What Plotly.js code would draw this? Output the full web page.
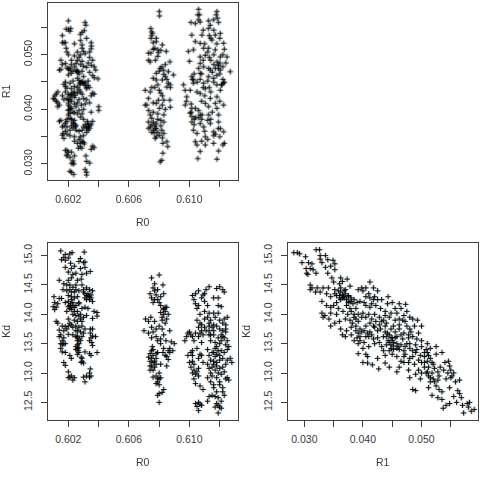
<!DOCTYPE html>
<html><head><meta charset="utf-8">
<script src="https://cdn.plot.ly/plotly-3.0.1.min.js"></script>
<style>html,body{margin:0;padding:0;background:#fff}#p{width:480px;height:480px}
.scatterlayer{filter:drop-shadow(1px 0 0 rgba(60,165,240,.42)) drop-shadow(-1px 0 0 rgba(240,145,50,.30))}</style>
</head><body><div id="p"></div>
<script>
const r0TickVals=[0.602,0.604,0.606,0.608,0.610,0.612];
const r0TickText=['0.602','','0.606','','0.610',''];
const r1TickVals=[0.030,0.035,0.040,0.045,0.050,0.055];
const r1TickText=['0.030','','0.040','','0.050',''];
const kdTickVals=[12.5,13,13.5,14,14.5,15];
const kdTickText=['12.5','13.0','13.5','14.0','14.5','15.0'];
// [R0, R1]
const r0r1=[[.6020,.0562],[.6031,.0559],[.60315,.0554],[.6020,.0546],[.6021,.0543],[.60185,.0547],[.60215,.0548],[.6029,.0541],[.6028,.0537],[.60305,.0544],[.6016,.0535],[.6032,.0530],[.6017,.0522],[.6016,.0522],[.6018,.0522],[.6024,.0520],[.6028,.0526],[.6029,.0518],[.6035,.0522],[.60352,.0516],[.6035,.0511],[.6034,.0505],[.60185,.0512],[.6019,.0505],[.6020,.0500],[.6029,.0512],[.6030,.0506],[.6031,.0502],[.6028,.0500],[.6026,.0505],[.6024,.0498],[.6027,.0495],[.6034,.0495],[.6036,.0490],[.6022,.0490],[.6015,.0490],[.6016,.0482],[.6018,.0484],[.6022,.0482],[.6025,.0484],[.6029,.0488],[.6033,.0485],[.6035,.0481],[.6037,.0478],[.6038,.0472],[.6032,.0477],[.6030,.0479],[.6019,.0476],[.6020,.0474],[.6021,.0472],[.6023,.0470],[.6025,.0470],[.6026,.0468],[.6027,.0465],[.6015,.0473],[.6014,.0472],[.6020,.0463],[.6029,.0470],[.6034,.0468],[.6037,.0458],[.60395,.0456],[.6036,.0462],[.6018,.0450],[.6017,.0446],[.6018,.0442],[.6019,.0439],[.6026,.0457],[.6027,.0453],[.6028,.0449],[.6029,.0449],[.6030,.0447],[.6031,.0449],[.60275,.0445],[.6033,.0452],[.6033,.0444],[.6032,.0440],[.6034,.0440],[.6026,.0440],[.6027,.0436],[.6024,.0432],[.6023,.0430],[.6022,.0428],[.6021,.0426],[.6020,.0428],[.6026,.0430],[.6028,.0432],[.6029,.0428],[.6036,.0430],[.6037,.0428],[.6035,.0425],[.6013,.0432],[.6012,.0428],[.6011,.0425],[.6016,.0425],[.6017,.0418],[.6019,.0420],[.6021,.0418],[.6022,.0415],[.6020,.0412],[.6010,.0420],[.6011,.0418],[.6012,.0415],[.6013,.0412],[.6014,.0408],[.6013,.0405],[.6020,.0408],[.6021,.0405],[.6024,.0410],[.6026,.0412],[.6025,.0405],[.60285,.0408],[.6034,.0412],[.6032,.0418],[.6040,.0405],[.6040,.0398],[.6035,.0395],[.6022,.0402],[.6020,.0398],[.6021,.0393],[.6020,.0390],[.6030,.0400],[.6027,.0398],[.6026,.0392],[.6024,.0394],[.6029,.0392],[.6015,.0380],[.6014,.0378],[.6019,.0382],[.6021,.0384],[.6022,.0382],[.6024,.0380],[.6023,.0376],[.60245,.0372],[.6025,.0370],[.6018,.0375],[.6017,.0370],[.6019,.0368],[.6028,.0386],[.6030,.0382],[.60325,.0378],[.6033,.0374],[.6036,.0378],[.6031,.0372],[.6034,.0370],[.6032,.0368],[.6035,.0372],[.6023,.0366],[.6025,.0362],[.6027,.0360],[.6018,.0360],[.6019,.0355],[.6021,.0352],[.6024,.0350],[.6029,.0362],[.6032,.0358],[.6030,.0352],[.6028,.0350],[.6027,.0345],[.6029,.0342],[.6030,.0340],[.6028,.0338],[.60305,.0337],[.6017,.0347],[.6018,.0325],[.6019,.0325],[.6020,.0322],[.6022,.0322],[.6019,.0315],[.6021,.0312],[.6024,.0315],[.6023,.0306],[.60235,.0300],[.6023,.0302],[.60315,.0315],[.6032,.0305],[.6034,.0302],[.6036,.0333],[.6037,.0330],[.6035,.0327],[.6021,.0287],[.6022,.0285],[.60235,.0281],[.6031,.0290],[.6032,.0285],[.6032,.0280],[.6024,.0342],[.6026,.0338],
[.60255,.0472],[.60266,.0469],[.60277,.0448],[.60299,.0448],[.60288,.0451],[.6031,.0445],[.6032,.0438],[.6020,.0417],[.6021,.0400],[.6020,.0399],[.60222,.0423],[.60244,.0426],[.60233,.0374],[.60244,.0368],[.60332,.0368],[.6032,.0365],[.6034,.0365],[.60277,.0332],[.60266,.0329],[.60288,.0329],[.6016,.0353],[.60165,.0356],[.6019,.0317],[.60222,.0301],[.6021,.0475],[.6022,.0466],[.6024,.0478],[.6026,.0490],[.6028,.0482],[.6030,.0460],[.6023,.0452],[.6021,.0448],[.6024,.0442],[.6022,.0438],[.6018,.0432],[.6024,.0422],[.6027,.0418],[.6030,.0420],[.6031,.0410],[.6023,.0395],[.6019,.0378],[.6016,.0368],[.6022,.0370],[.6021,.0362],[.6030,.0368],[.6033,.0362],
[.6080,.0579],[.60802,.0571],[.60744,.0548],[.6075,.0542],[.60755,.0539],[.6078,.0530],[.60745,.0530],[.6076,.0522],[.6078,.0524],[.6082,.0518],[.60729,.0503],[.60744,.0503],[.6079,.0509],[.60795,.0504],[.60846,.0506],[.60729,.0490],[.6074,.0487],[.6087,.0487],[.60775,.0490],[.60817,.0478],[.60806,.0475],[.60828,.0472],[.6086,.0469],[.60894,.0463],[.6078,.0466],[.6078,.0454],[.6076,.0457],[.6082,.0454],[.6086,.0448],[.60707,.0435],[.6075,.0440],[.6077,.0440],[.6085,.0441],[.60873,.0440],[.60873,.0445],[.6080,.0435],[.60729,.0420],[.6083,.0417],[.60795,.0417],[.6078,.0411],[.6087,.0417],[.60707,.0408],[.60718,.0408],[.60873,.0404],[.60802,.0402],[.6083,.0390],[.6074,.0390],[.6075,.0384],[.60729,.0377],[.6076,.0377],[.6078,.0374],[.6083,.0377],[.6074,.0368],[.60773,.0365],[.6076,.0362],[.6078,.0365],[.60817,.0362],[.6083,.0356],[.6078,.0350],[.60773,.0347],[.60802,.0353],[.6085,.0341],[.60856,.0332],[.60824,.0338],[.60824,.0320],[.60817,.0307],[.60806,.0304],[.6075,.0372],[.6077,.0370],[.6079,.0382],[.6084,.0400],[.6081,.0430],[.6079,.0497],[.6076,.0510],[.6083,.0464],[.6085,.0455],[.6076,.0395],[.60765,.0357],[.6075,.0535],[.6077,.0512],[.6081,.0508],[.6084,.0482],[.6080,.0470],[.6084,.0460],[.6079,.0445],[.6074,.0432],[.6082,.0425],[.6076,.0412],[.6082,.0408],[.6073,.0398],[.6079,.0392],[.6081,.0380],[.6073,.0365],[.6075,.0358],[.6081,.0370],[.6079,.0358],[.6082,.0348],
[.6106,.0583],[.61055,.0573],[.61066,.0573],[.6106,.0564],[.6107,.0560],[.61009,.0559],[.61038,.0557],[.61126,.0562],[.61181,.0579],[.61176,.0573],[.61185,.0567],[.61159,.0564],[.61192,.0559],[.61137,.0554],[.61015,.0536],[.61082,.0536],[.61126,.0548],[.61203,.0539],[.6117,.0536],[.61148,.0527],[.61225,.0521],[.61038,.0524],[.6107,.0521],[.60993,.0506],[.61026,.0509],[.61093,.0512],[.61126,.0512],[.6117,.0509],[.61247,.0496],[.6100,.0488],[.6107,.0496],[.61104,.0499],[.61203,.0496],[.61181,.0487],[.61192,.0481],[.6107,.0484],[.6106,.0475],[.61093,.0478],[.61269,.0469],[.61126,.0475],[.61137,.0472],[.6117,.0475],[.61203,.0472],[.61015,.0460],[.61026,.0454],[.6107,.0466],[.61126,.0460],[.61159,.0457],[.61225,.0448],[.61215,.0445],[.6096,.0445],[.60971,.0435],[.61026,.0448],[.61004,.0435],[.61093,.0448],[.61104,.0438],[.61203,.0435],[.61049,.0432],[.6107,.0429],[.60982,.0423],[.60971,.0408],[.61137,.0420],[.61181,.0423],[.6117,.0411],[.61225,.0408],[.61104,.0411],[.61015,.0402],[.61038,.0402],[.61126,.0405],[.61181,.0402],[.61004,.0393],[.61015,.0387],[.6107,.0390],[.61082,.0390],[.61126,.0390],[.61192,.0390],[.61015,.0377],[.6107,.0374],[.61026,.0362],[.61093,.0368],[.61137,.0374],[.61192,.0377],[.61203,.0365],[.61159,.0359],[.61225,.0359],[.61049,.0356],[.61104,.0350],[.61038,.0341],[.61049,.0335],[.61104,.0335],[.6107,.0323],[.61159,.0338],[.6123,.0338],[.61192,.0324],[.61055,.0310],[.61181,.0309],[.6119,.0475],[.6120,.0465],[.6122,.0455],[.6123,.0450],[.6121,.0445],[.6119,.0480],[.6114,.0490],[.6112,.0505],[.6110,.0520],[.6114,.0530],[.6118,.0520],[.6122,.0500],[.6120,.0485],[.6108,.0465],[.6103,.0465],[.6102,.0455],[.6105,.0450],[.6109,.0440],[.6113,.0440],[.6116,.0450],[.6124,.0485],[.6118,.0445],[.6110,.0425],[.6104,.0385],[.6103,.0382],[.6106,.0385],[.6108,.0382],[.6112,.0380],[.6101,.0395],[.6103,.0372],[.6119,.0365],[.6117,.0355],[.6116,.0352],[.6122,.0335],[.6109,.0545],[.6113,.0535],[.6116,.0545],[.6120,.0530],[.6123,.0510],[.6116,.0500],[.6113,.0495],[.6109,.0490],[.6116,.0482],[.6122,.0478],[.6115,.0468],[.6118,.0462],[.6112,.0452],[.6107,.0455],[.6114,.0432],[.6120,.0415],[.6108,.0415],[.6098,.0415],[.6101,.0410],[.6106,.0398],[.6115,.0395],[.6114,.0382],[.6110,.0360],[.6120,.0350],[.6112,.0345],[.6108,.0342]];
// [R0, Kd]
const r0kd=[[.6015,15.08],[.6018,15.02],[.6021,15.03],[.60225,15.05],[.60305,15.06],[.6017,14.97],[.60155,14.93],[.6018,14.92],[.6020,14.96],[.6028,14.95],[.6030,14.88],[.6031,14.89],[.6027,14.90],[.60215,14.87],[.6018,14.80],[.6022,14.78],[.6024,14.82],[.6028,14.78],[.6031,14.80],[.60345,14.73],[.6020,14.72],[.6023,14.68],[.6025,14.70],[.6029,14.68],[.6032,14.70],[.6014,14.58],[.6022,14.62],[.6026,14.58],[.60285,14.60],[.6017,14.52],[.6019,14.50],[.6021,14.50],[.6023,14.46],[.6032,14.45],[.6034,14.42],[.60165,14.42],[.6019,14.40],[.6021,14.42],[.6024,14.38],[.6027,14.40],[.6036,14.40],[.6030,14.38],[.6031,14.35],[.6033,14.35],[.6035,14.33],[.60105,14.30],[.6014,14.27],[.60155,14.27],[.6020,14.32],[.6022,14.30],[.6024,14.28],[.6026,14.30],[.6031,14.28],[.6032,14.25],[.6034,14.25],[.6036,14.22],[.6011,14.20],[.6013,14.18],[.6010,14.13],[.6012,14.12],[.6011,14.08],[.6018,14.20],[.6020,14.22],[.60215,14.18],[.6023,14.20],[.6025,14.15],[.6027,14.18],[.6020,14.13],[.6021,14.10],[.6022,14.08],[.6024,14.05],[.6019,14.05],[.6029,14.10],[.6031,14.12],[.6033,14.10],[.6037,14.05],[.6039,14.03],[.6039,13.97],[.6023,14.00],[.6025,13.98],[.6027,13.97],[.6028,14.00],[.6030,13.95],[.6032,13.98],[.6036,13.93],[.6012,13.88],[.6013,13.85],[.6020,13.92],[.6024,13.90],[.6026,13.88],[.6029,13.88],[.6016,13.80],[.6018,13.79],[.6020,13.80],[.6022,13.82],[.6025,13.80],[.6027,13.78],[.6029,13.80],[.6031,13.75],[.6014,13.73],[.6017,13.72],[.6026,13.72],[.6028,13.70],[.6030,13.68],[.60345,13.75],[.6015,13.65],[.6014,13.62],[.6020,13.66],[.6023,13.65],[.6026,13.63],[.6029,13.62],[.60345,13.68],[.6036,13.63],[.6038,13.62],[.6035,13.60],[.6016,13.55],[.6017,13.50],[.6016,13.48],[.6018,13.50],[.6026,13.55],[.6027,13.50],[.6028,13.55],[.60355,13.52],[.6036,13.47],[.6015,13.42],[.6016,13.36],[.6018,13.35],[.6025,13.45],[.6026,13.42],[.60265,13.38],[.6027,13.43],[.6031,13.36],[.6034,13.33],[.6035,13.30],[.6039,13.35],[.6021,13.30],[.6022,13.25],[.60285,13.27],[.6029,13.20],[.6030,13.17],[.6017,13.18],[.6018,13.13],[.60345,13.07],[.6034,13.00],[.6020,13.02],[.6021,12.93],[.6022,12.95],[.6020,12.92],[.6023,12.88],[.6024,12.92],[.6030,12.93],[.6032,12.95],[.6034,12.93],[.6035,12.95],[.6031,12.85],[.6022,14.25],[.6023,14.15],[.6021,14.15],[.6024,14.12],[.6022,14.12],[.6026,14.05],[.6033,14.30],[.6034,14.30],[.6032,14.32],[.6035,14.28],[.6030,14.42],[.6027,14.20],[.6028,13.92],[.6025,13.72],[.6026,13.60],[.6027,13.58],[.6026,13.48],[.6025,13.40],[.6027,13.35],[.6026,13.32],[.6017,13.60],[.6015,13.50],[.6029,13.25],[.60285,13.18],[.6034,13.55],[.6036,13.75],[.6021,13.85],[.6019,13.75],[.6023,13.78],[.6025,13.62],[.6020,14.58],[.6025,14.50],[.6029,14.50],[.6022,14.38],[.6025,14.42],
[.6080,14.67],[.6075,14.62],[.6077,14.52],[.60825,14.50],[.6076,14.45],[.6077,14.40],[.6074,14.35],[.6078,14.33],[.6075,14.28],[.6077,14.25],[.6079,14.25],[.6083,14.35],[.6081,14.30],[.6084,14.12],[.6083,14.08],[.6081,14.03],[.6085,14.12],[.6086,14.00],[.6083,14.00],[.6080,14.20],[.6071,13.92],[.6073,13.88],[.60745,13.95],[.6077,13.88],[.6082,13.90],[.6084,13.85],[.6075,13.78],[.6070,13.72],[.6073,13.68],[.6078,13.75],[.6082,13.75],[.6087,13.72],[.6075,13.60],[.6078,13.62],[.6081,13.58],[.60845,13.55],[.6088,13.53],[.6090,13.50],[.6081,13.50],[.60755,13.45],[.6083,13.42],[.6086,13.38],[.6087,13.35],[.6089,13.38],[.6075,13.38],[.6074,13.33],[.6076,13.30],[.6078,13.33],[.60825,13.35],[.6084,13.30],[.6073,13.27],[.6075,13.25],[.6078,13.25],[.6086,13.23],[.6074,13.20],[.6076,13.18],[.6075,13.12],[.6078,13.15],[.6081,13.15],[.6085,13.12],[.6074,13.05],[.6076,13.05],[.6078,12.95],[.6076,12.93],[.6080,12.90],[.6081,12.92],[.6079,12.85],[.6078,12.82],[.6080,12.80],[.6083,12.72],[.6082,12.67],[.6080,12.65],[.6079,12.62],[.6080,12.50],[.6083,14.10],[.6082,13.95],[.6079,13.55],[.6076,13.40],[.6077,13.10],[.6079,14.42],[.6076,14.20],[.6081,14.15],[.6084,14.05],[.6085,13.92],[.6080,13.80],[.6076,13.70],[.6083,13.65],[.6079,13.35],[.6074,13.12],[.6087,13.42],[.6085,13.28],[.6080,13.00],[.6079,12.90],[.6077,13.20],
[.6113,14.47],[.6111,14.42],[.6109,14.33],[.6110,14.35],[.6118,14.44],[.6120,14.47],[.6122,14.42],[.6123,14.38],[.6110,14.22],[.6112,14.15],[.6116,14.28],[.6119,14.28],[.6119,14.15],[.6121,14.13],[.6110,14.05],[.6113,14.02],[.6116,14.02],[.6119,14.02],[.6112,13.95],[.6114,13.90],[.6117,13.95],[.6120,13.90],[.6123,13.92],[.6125,13.95],[.6113,13.85],[.6116,13.82],[.6118,13.80],[.6122,13.85],[.6124,13.82],[.6113,13.80],[.6115,13.78],[.6116,13.72],[.6122,13.72],[.6124,13.70],[.6099,13.68],[.61,13.70],[.6101,13.65],[.6102,13.62],[.6098,13.62],[.6097,13.55],[.6113,13.65],[.6116,13.65],[.6121,13.65],[.6122,13.62],[.6123,13.60],[.6125,13.55],[.6103,13.55],[.6108,13.52],[.6114,13.55],[.6117,13.52],[.6120,13.50],[.6124,13.48],[.6126,13.45],[.6102,13.38],[.6105,13.42],[.6107,13.32],[.6117,13.42],[.6119,13.38],[.6121,13.38],[.6123,13.35],[.6125,13.40],[.6116,13.35],[.6118,13.32],[.6106,13.25],[.6102,13.20],[.6100,13.18],[.6103,13.15],[.6117,13.28],[.6120,13.22],[.6122,13.25],[.6125,13.22],[.6127,13.25],[.6128,13.18],[.6124,13.15],[.6101,13.10],[.6103,13.05],[.6106,13.08],[.6116,13.15],[.6118,13.12],[.6120,13.08],[.6122,13.10],[.6102,13.00],[.6104,12.98],[.6106,12.95],[.6117,13.05],[.6119,13.00],[.6121,12.98],[.6123,13.02],[.6124,12.90],[.6125,12.92],[.6126,12.88],[.6103,12.90],[.6118,12.92],[.6120,12.85],[.6104,12.82],[.6107,12.78],[.6109,12.72],[.6120,12.80],[.6122,12.75],[.6118,12.68],[.6115,12.62],[.6117,12.60],[.6119,12.58],[.6113,12.60],[.6106,12.50],[.6107,12.47],[.6105,12.43],[.6108,12.45],[.6106,12.36],[.6118,12.48],[.6119,12.45],[.6117,12.42],[.6120,12.42],[.6119,12.32],[.6121,12.52],[.6112,12.52],[.6111,13.72],[.6113,13.72],[.6118,13.45],[.6115,13.35],[.6116,13.20],[.6115,13.10],[.6118,13.18],[.6120,13.30],[.6114,13.65],[.6120,13.75],[.6121,13.55],[.6119,13.60],[.6107,13.85],[.6108,13.82],[.6106,13.78],[.6108,13.72],[.6107,13.68],[.6109,13.65],[.6106,13.62],[.6105,13.90],[.6107,14.00],[.6110,13.92],[.6105,14.10],[.6104,14.18],[.6106,14.15],[.6103,14.25],[.6102,14.32],[.6104,14.35],[.6106,14.40],[.6108,14.28],[.6110,13.78],[.6104,13.68],[.6112,13.40],[.6113,13.30],[.6114,13.22],[.6112,13.15],[.6113,13.08],[.6114,13.00],[.6112,12.92],[.6114,12.85],[.6108,13.30],[.6109,13.18],[.6105,13.02],[.6102,13.30],[.6099,13.30],[.6101,13.35],[.6115,12.95],[.6116,12.80],[.6116,12.75],[.6123,12.62],[.6122,12.68],[.6104,12.48],[.6121,12.40],[.6124,13.75]];
// [R1, Kd]
const r1kd=[[.0282,15.05],[.0288,15.05],[.0292,15.03],[.0302,14.98],[.0296,14.88],[.0307,14.88],[.0313,14.86],[.0303,14.78],[.0310,14.78],[.0315,14.76],[.0304,14.70],[.0306,14.68],[.0320,14.70],[.0320,15.10],[.0326,15.10],[.0327,15.00],[.0327,14.94],[.0330,14.88],[.0336,15.00],[.0340,14.93],[.0349,14.92],[.0352,14.86],[.0345,14.82],[.0336,14.80],[.0352,14.76],[.0340,14.70],[.0347,14.62],[.0310,14.50],[.0313,14.45],[.0310,14.42],[.0322,14.45],[.0319,14.38],[.0327,14.38],[.0332,14.45],[.0341,14.45],[.0352,14.42],[.0350,14.55],[.0362,14.62],[.0365,14.56],[.0360,14.52],[.0373,14.60],[.0362,14.45],[.0370,14.42],[.0378,14.48],[.0338,14.35],[.0345,14.30],[.0355,14.32],[.0360,14.32],[.0365,14.33],[.0370,14.35],[.0375,14.30],[.0380,14.28],[.0385,14.25],[.0390,14.20],[.0330,14.22],[.0338,14.15],[.0345,14.12],[.0350,14.15],[.0355,14.20],[.0362,14.25],[.0368,14.28],[.0375,14.20],[.0380,14.22],[.0388,14.10],[.0395,14.22],[.0400,14.40],[.0405,14.45],[.0412,14.55],[.0418,14.45],[.0410,14.35],[.0420,14.30],[.0425,14.40],[.0398,14.45],[.0392,14.42],[.0418,14.25],[.0425,14.25],[.0415,14.18],[.0405,14.15],[.0412,14.12],[.0422,14.15],[.0443,14.30],[.0442,14.18],[.0450,14.20],[.0462,14.18],[.0473,14.17],[.0455,14.10],[.0465,14.10],[.0475,14.05],[.0480,13.95],[.0430,14.10],[.0438,14.05],[.0448,14.02],[.0458,14.02],[.0470,13.98],[.0485,13.92],[.0493,13.90],[.0500,13.80],[.0330,14.02],[.0335,13.98],[.0342,13.92],[.0332,13.95],[.0345,14.02],[.0355,14.00],[.0360,13.88],[.0370,13.92],[.0380,14.05],[.0385,14.00],[.0385,13.95],[.0392,13.88],[.0400,14.02],[.0405,13.95],[.0410,14.00],[.0415,13.92],[.0420,14.00],[.0428,13.95],[.0435,13.90],[.0440,13.85],[.0445,13.95],[.0455,13.90],[.0462,13.82],[.0468,13.90],[.0475,13.80],[.0480,13.75],[.0352,13.85],[.0345,13.80],[.0362,13.75],[.0372,13.72],[.0380,13.78],[.0388,13.80],[.0395,13.75],[.0405,13.80],[.0412,13.70],[.0420,13.78],[.0430,13.75],[.0438,13.70],[.0448,13.75],[.0455,13.70],[.0462,13.75],[.0470,13.68],[.0478,13.65],[.0365,13.65],[.0370,13.62],[.0380,13.65],[.0390,13.60],[.0395,13.62],[.0405,13.62],[.0415,13.65],[.0425,13.60],[.0435,13.62],[.0443,13.55],[.0450,13.60],[.0458,13.50],[.0468,13.58],[.0478,13.60],[.0485,13.62],[.0492,13.58],[.0500,13.55],[.0510,13.50],[.0385,13.55],[.0392,13.50],[.0400,13.42],[.0410,13.45],[.0420,13.50],[.0432,13.45],[.0440,13.48],[.0448,13.42],[.0452,13.46],[.0462,13.40],[.0472,13.45],[.0480,13.42],[.0490,13.48],[.0500,13.45],[.0508,13.40],[.0515,13.42],[.0525,13.45],[.0392,13.33],[.0405,13.32],[.0408,13.28],[.0425,13.25],[.0438,13.30],[.0450,13.32],[.0458,13.28],[.0465,13.20],[.0472,13.32],[.0480,13.25],[.0490,13.35],[.0498,13.30],[.0505,13.28],[.0515,13.25],[.0525,13.32],[.0535,13.35],[.0400,13.18],[.0408,13.17],[.0416,13.14],[.0427,13.07],[.0438,13.17],[.0445,13.10],[.0458,13.02],[.0462,13.10],[.0470,13.18],[.0478,13.05],[.0488,13.15],[.0495,13.05],[.0505,13.18],[.0512,13.10],[.0520,13.15],[.0528,13.02],[.0540,13.18],[.0546,13.20],[.0550,13.05],[.0555,13.00],[.0480,12.92],[.0490,12.98],[.0498,12.90],[.0508,13.00],[.0515,12.92],[.0522,12.85],[.0530,12.95],[.0542,12.90],[.0550,12.92],[.0558,12.85],[.0565,12.88],[.0485,12.72],[.0490,12.70],[.0512,12.75],[.0518,12.62],[.0525,12.78],[.0530,12.72],[.0535,12.68],[.0528,12.58],[.0535,12.55],[.0542,12.45],[.0548,12.75],[.0555,12.60],[.0562,12.70],[.0568,12.58],[.0560,12.50],[.0570,12.45],[.0578,12.48],[.0585,12.35],[.0590,12.38],[.0580,12.42],[.0572,12.32],[.0548,12.48],[.0565,12.65],[.0582,12.50],[.0537,12.40],[.0515,12.85],[.0510,13.35],[.0445,13.65],[.0450,13.55],[.0452,13.40],[.0455,13.60],[.0460,13.45],[.0445,13.38],[.0375,14.32],[.0365,14.28],[.0360,14.28],
[.0362,14.38],[.0367,14.30],[.0372,14.25],[.0378,14.22],[.0372,14.15],[.0378,14.10],[.0383,14.18],[.0358,14.10],[.0366,14.05],[.0374,14.00],[.0392,14.00],[.0398,13.95],[.0388,13.92],[.0378,13.90],[.0382,13.85],[.0388,13.72],[.0392,13.68],[.0398,13.70],[.0402,13.72],[.0408,13.68],[.0395,13.55],[.0402,13.52],[.0410,13.62],[.0418,13.58],[.0428,13.52],[.0435,13.38],[.0428,13.82],[.0422,13.88],[.0432,13.88],[.0412,13.85],[.0418,13.80],[.0425,13.72],[.0440,13.62],[.0445,13.52],[.0448,13.48],[.0452,13.52],[.0448,13.60],[.0442,13.68],[.0458,13.62],[.0465,13.65],[.0458,13.42],[.0465,13.48],[.0470,13.38],[.0475,13.50],[.0485,13.38],[.0480,13.50],[.0492,13.40],[.0470,13.28],[.0478,13.18],[.0485,13.28],[.0495,13.22],[.0500,13.18],[.0505,13.35],[.0510,13.20],[.0512,13.30],[.0518,13.18],[.0505,13.10],[.0510,13.02],[.0518,13.00],[.0522,13.08],[.0500,13.00],[.0512,12.95],[.0520,12.90],[.0528,12.88],[.0532,13.10],[.0538,13.05],[.0545,13.00],[.0552,12.95],[.0548,13.12],[.0358,14.40],[.0352,14.35],[.0368,14.40],[.0405,14.30],[.0412,14.28],[.0402,14.20],[.0432,14.25],[.0438,13.98],[.0452,13.80],[.0462,13.92],[.0472,13.88],[.0488,13.80],[.0495,13.68],[.0482,13.70],[.0438,13.80]];
const box='#404040', txt='#3a3a3a', fnt='"Liberation Sans",Arial,sans-serif';
function marks(pairs,xa,ya){
  return {x:pairs.map(p=>p[0]),y:pairs.map(p=>p[1]),xaxis:xa,yaxis:ya,type:'scatter',mode:'markers',
    marker:{symbol:'cross-thin',size:3.9,color:'#000',line:{color:'#000',width:0.9}},hoverinfo:'skip',showlegend:false};
}
function ax(range,domain,vals,text,title,isY,anchor){
  return {range:range,domain:domain,anchor:anchor,tickmode:'array',tickvals:vals,ticktext:text,ticks:'outside',ticklen:6,tickwidth:1,tickcolor:box,
    showline:true,linecolor:box,linewidth:1,mirror:true,showgrid:false,zeroline:false,automargin:false,
    tickfont:{family:fnt,size:10.5,color:txt},tickangle:isY?-90:0,ticklabelstandoff:isY?5:3,
    title:{text:title,font:{family:fnt,size:10.5,color:txt},standoff:isY?8:15}};
}
const xL=[47.7/480,237.7/480], xR=[287.7/480,477.7/480], yT=[300/480,477.3/480], yB=[60/480,237.3/480];
const r0Range=[0.60064,0.61319], r1RangeY=[0.02707,0.0595], kdRange=[12.2,15.22], r1RangeX=[0.02716,0.0596];
Plotly.newPlot('p',[marks(r0r1,'x','y'),marks(r0kd,'x2','y2'),marks(r1kd,'x3','y3')],{
  width:480,height:480,margin:{l:0,r:0,t:0,b:0},paper_bgcolor:'#fff',plot_bgcolor:'#fff',showlegend:false,
  xaxis:ax(r0Range,xL,r0TickVals,r0TickText,'R0',false,'y'),
  yaxis:ax(r1RangeY,yT,r1TickVals,r1TickText,'R1',true,'x'),
  xaxis2:ax(r0Range,xL,r0TickVals,r0TickText,'R0',false,'y2'),
  yaxis2:ax(kdRange,yB,kdTickVals,kdTickText,'Kd',true,'x2'),
  xaxis3:ax(r1RangeX,xR,r1TickVals,r1TickText,'R1',false,'y3'),
  yaxis3:ax(kdRange,yB,kdTickVals,kdTickText,'Kd',true,'x3')
},{displayModeBar:false,staticPlot:true});
</script></body></html>
